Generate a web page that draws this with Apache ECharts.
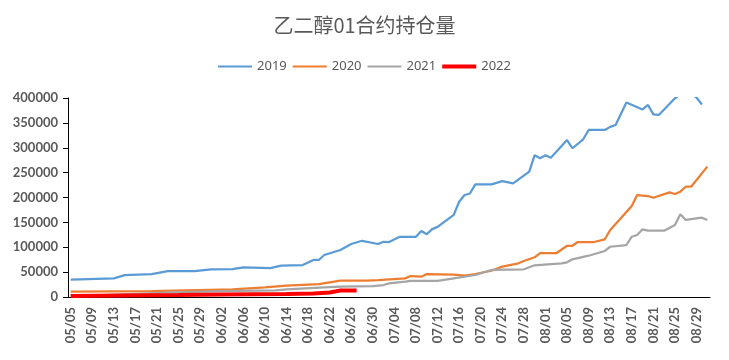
<!DOCTYPE html>
<html><head><meta charset="utf-8">
<script src="https://cdn.jsdelivr.net/npm/echarts@6/dist/echarts.min.js"></script>
<style>html,body{margin:0;padding:0;background:#fff}#c{width:729px;height:360px}</style>
</head><body><div id="c"></div>
<script>
// Categories: calendar days 05/05 .. 08/31
const monthSpans = [[5, 5, 31], [6, 1, 30], [7, 1, 31], [8, 1, 31]];
const categories = [];
monthSpans.forEach(([m, s, e]) => { for (let d = s; d <= e; d++) categories.push(String(m).padStart(2, '0') + '/' + String(d).padStart(2, '0')); });

const yTicks = [0, 50000, 100000, 150000, 200000, 250000, 300000, 350000, 400000];

const dates2019 = ['05/05','05/13','05/15','05/20','05/23','05/28','05/31','06/04','06/06','06/11','06/13','06/17','06/19','06/20','06/21','06/24','06/26','06/28','07/01','07/02','07/03','07/05','07/08','07/09','07/10','07/11','07/12','07/15','07/16','07/17','07/18','07/19','07/22','07/24','07/26','07/29','07/30','07/31','08/01','08/02','08/05','08/06','08/08','08/09','08/12','08/13','08/14','08/16','08/19','08/20','08/21','08/22','08/23','08/25','08/27','08/29','08/30'];
const values2019 = [35000,37500,44000,46000,52000,52000,55500,56000,59600,58000,63000,64300,74400,74400,84400,94500,106500,113000,106500,111000,110500,121000,121000,132700,126000,136500,141000,165000,191500,205000,208000,226500,226500,233000,228500,252000,285000,279000,285000,280000,315500,299000,317000,335700,335700,342000,345700,391000,377000,386000,367000,366000,377000,399500,415000,401000,387000];

const dates2020 = ['05/05','05/20','06/04','06/10','06/14','06/20','06/24','06/29','07/01','07/06','07/07','07/09','07/10','07/15','07/17','07/19','07/22','07/24','07/27','07/28','07/30','07/31','08/03','08/05','08/06','08/07','08/10','08/12','08/13','08/17','08/18','08/20','08/21','08/24','08/25','08/26','08/27','08/28','08/31'];
const values2020 = [10700,12000,15400,19500,22700,26100,32800,32800,34000,37500,42200,40800,46200,44800,42800,46200,52900,61000,67700,72400,79800,88000,88000,103000,103000,110500,110500,116000,134700,183000,205000,203000,199600,210400,207000,211700,221700,221700,262000];

const dates2021 = ['05/05','05/11','05/23','06/02','06/12','06/14','06/21','06/24','06/30','07/02','07/03','07/06','07/07','07/12','07/15','07/19','07/22','07/28','07/30','08/04','08/05','08/06','08/09','08/12','08/13','08/16','08/17','08/18','08/19','08/20','08/23','08/25','08/26','08/27','08/30','08/31'];
const values2021 = [3000,4000,8700,12000,13500,15400,19500,20800,22100,24100,27500,30800,32200,32200,37500,44200,54300,55700,63700,67700,69700,75800,83000,92500,101000,104500,121200,124600,136000,133300,133300,144700,166200,154800,159400,154800];

const dates2022 = ['05/05','05/15','05/25','06/02','06/14','06/19','06/22','06/24','06/27'];
const values2022 = [2000,3000,4000,5000,6000,7000,9000,13000,13000];

const seriesNames = ['2019', '2020', '2021', '2022'];
const colors = ['#5B9BD5', '#ED7D31', '#A5A5A5', '#FF0000'];
const widths = [2.25, 2.25, 2.25, 4];
const allDates = [dates2019, dates2020, dates2021, dates2022];
const allValues = [values2019, values2020, values2021, values2022];

const thinIcon = 'path://M0,0L0,0M0,4L34,4L34,6L0,6ZM34,10L34,10';
const thickIcon = 'path://M0,0L0,0M0,3L34,3L34,7L0,7ZM34,10L34,10';

const chart = echarts.init(document.getElementById('c'));
chart.setOption({
  animation: false,
  title: { text: '乙二醇01合约持仓量', left: 'center', top: 10,
    textStyle: { fontFamily: 'Noto Sans CJK SC', fontSize: 20, fontWeight: 'normal', color: '#595959' } },
  legend: { top: 55, left: 'center', itemWidth: 34, itemHeight: 10, itemGap: 6,
    textStyle: { fontFamily: 'Noto Sans', fontSize: 13, color: '#595959' },
    data: seriesNames.map((n, k) => ({ name: n, icon: k === 3 ? thickIcon : thinIcon, itemStyle: { color: colors[k] } })) },
  grid: { left: 68, right: 19, top: 98, bottom: 63 },
  xAxis: { type: 'category', data: categories, boundaryGap: true,
    axisLine: { lineStyle: { color: '#000', width: 1 } },
    axisTick: { show: false },
    axisLabel: { interval: 3, rotate: 90, margin: 10, fontFamily: 'Lato', fontWeight: 'bold', fontSize: 13, color: '#595959' } },
  yAxis: { type: 'value', min: yTicks[0], max: yTicks[yTicks.length - 1], interval: yTicks[1] - yTicks[0],
    axisLine: { show: true, lineStyle: { color: '#000', width: 1 } },
    axisTick: { show: true, length: 5, lineStyle: { color: '#000' } },
    splitLine: { show: false },
    axisLabel: { margin: 10, fontFamily: 'Lato', fontWeight: 'bold', fontSize: 13, color: '#595959', formatter: v => String(v) } },
  series: seriesNames.map((n, k) => ({
    name: n, type: 'line', symbol: 'none', clip: true, z: k === 3 ? 5 : 2,
    lineStyle: { color: colors[k], width: widths[k] }, itemStyle: { color: colors[k] },
    data: allDates[k].map((d, j) => [d, allValues[k][j]])
  }))
});
</script></body></html>
